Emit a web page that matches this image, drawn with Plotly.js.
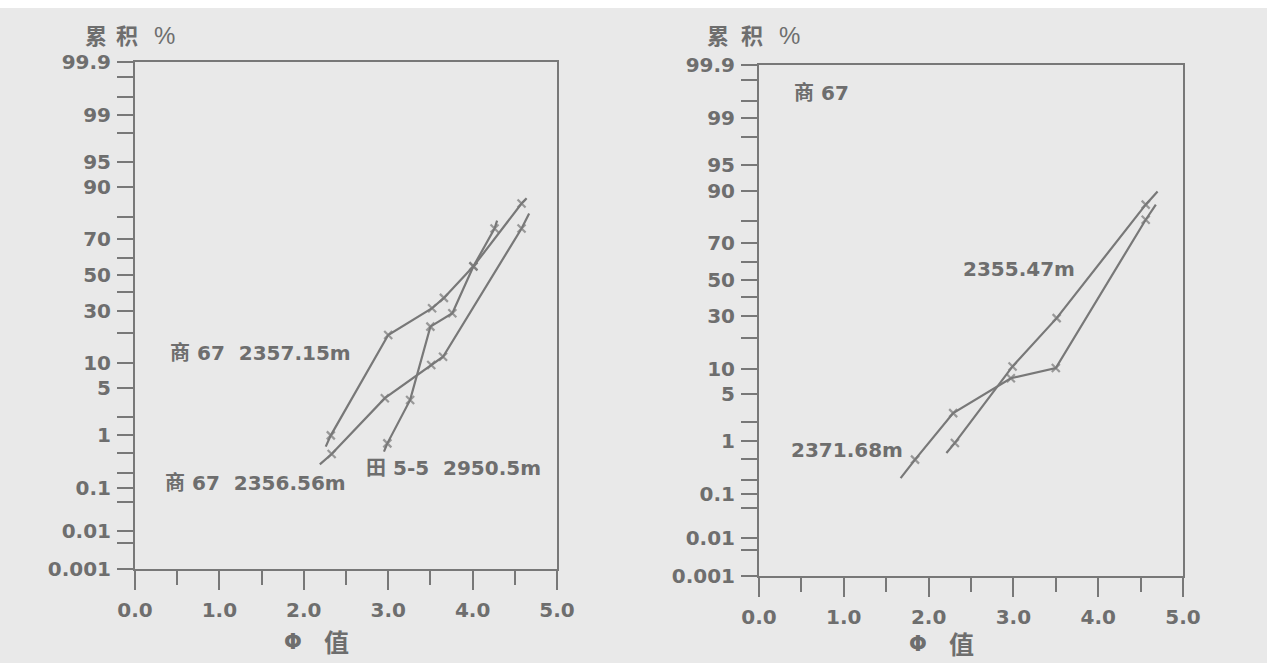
<!DOCTYPE html>
<html>
<head>
<meta charset="utf-8">
<script src="https://cdn.plot.ly/plotly-3.0.1.min.js"></script>
<style>html,body{margin:0;padding:0;background:#e9e9e9;}#chart{width:1267px;height:663px;}</style>
</head>
<body>
<div id="chart"></div>
<script>
// ---------- data (Φ value, cumulative %) ----------
// left panel
var s1Phi = [2.26, 2.32, 3.00, 3.52, 3.66, 4.01, 4.58, 4.64];      // 商67 2357.15m
var s1Pct = [0.64, 1.0, 19.2, 31.5, 37, 55, 85, 86.7];
var s2Phi = [2.19, 2.33, 2.96, 3.51, 3.65, 4.58, 4.67];            // 商67 2356.56m
var s2Pct = [0.30, 0.47, 3.7, 9.6, 11.8, 75, 81.4];
var s3Phi = [2.95, 2.99, 3.26, 3.50, 3.76, 4.01, 4.26, 4.29];      // 田5-5 2950.5m
var s3Pct = [0.52, 0.73, 3.5, 22.7, 29, 55, 75, 78.5];
// right panel
var pPhi = [1.67, 1.84, 2.29, 2.97, 3.50, 4.56, 4.68];             // 2371.68m
var pPct = [0.215, 0.48, 2.74, 7.8, 10.2, 80.6, 86];
var qPhi = [2.21, 2.31, 2.99, 3.51, 4.56, 4.70];                   // 2355.47m
var qPct = [0.63, 0.94, 10.6, 29, 86, 89.8];

var majorPct = [99.9, 99, 95, 90, 70, 50, 30, 10, 5, 1, 0.1, 0.01, 0.001];
var majorLbl = ['99.9', '99', '95', '90', '70', '50', '30', '10', '5', '1', '0.1', '0.01', '0.001'];
var minorPct = [99.8, 99.5, 98, 80, 60, 40, 20, 2, 0.5, 0.2, 0.05, 0.005];

// ---------- probability (probit) scale ----------
function probit(p) {
  var a = [-3.969683028665376e+01, 2.209460984245205e+02, -2.759285104469687e+02, 1.383577518672690e+02, -3.066479806614716e+01, 2.506628277459239e+00];
  var b = [-5.447609879822406e+01, 1.615858368580409e+02, -1.556989798598866e+02, 6.680131188771972e+01, -1.328068155288572e+01];
  var c = [-7.784894002430293e-03, -3.223964580411365e-01, -2.400758277161838e+00, -2.549732539343734e+00, 4.374664141464968e+00, 2.938163982698783e+00];
  var d = [7.784695709041462e-03, 3.224671290700398e-01, 2.445134137142996e+00, 3.754408661907416e+00];
  var pl = 0.02425, q, r;
  if (p < pl) { q = Math.sqrt(-2 * Math.log(p));
    return (((((c[0]*q+c[1])*q+c[2])*q+c[3])*q+c[4])*q+c[5]) / ((((d[0]*q+d[1])*q+d[2])*q+d[3])*q+1); }
  if (p <= 1 - pl) { q = p - 0.5; r = q*q;
    return (((((a[0]*r+a[1])*r+a[2])*r+a[3])*r+a[4])*r+a[5])*q / (((((b[0]*r+b[1])*r+b[2])*r+b[3])*r+b[4])*r+1); }
  q = Math.sqrt(-2 * Math.log(1 - p));
  return -(((((c[0]*q+c[1])*q+c[2])*q+c[3])*q+c[4])*q+c[5]) / ((((d[0]*q+d[1])*q+d[2])*q+d[3])*q+1);
}
function z(arr) { return arr.map(function (v) { return probit(v / 100); }); }

var W = 1267, H = 663;
function px(x) { return x / W; }
function py(y) { return 1 - y / H; }

var INK = '#6e6e6e', LINE = '#787878';
var numFont = {family: 'DejaVu Sans, sans-serif', size: 20, color: INK, weight: 'bold'};
var txtFont = {family: 'DejaVu Sans, Noto Sans CJK SC, sans-serif', size: 20, color: INK, weight: 'bold'};
var cjkFont = {family: 'Noto Sans CJK SC, sans-serif', size: 22, color: INK, weight: 'bold'};
var pctFont = {family: 'Liberation Sans, sans-serif', size: 24, color: INK};
var phiFont = {family: 'DejaVu Sans, sans-serif', size: 21, color: INK, weight: 'bold'};
var zhiFont = {family: 'Noto Sans CJK SC, sans-serif', size: 25, color: INK, weight: 'bold'};

function markerSizes(n) { var s = []; for (var i = 0; i < n; i++) s.push(i === 0 || i === n - 1 ? 0 : 8); return s; }
function trace(xs, ps, xa, ya) {
  return {x: xs, y: z(ps), xaxis: xa, yaxis: ya, type: 'scatter', mode: 'lines+markers',
    line: {color: LINE, width: 2.2},
    marker: {symbol: 'x-thin', size: markerSizes(xs.length), color: LINE, line: {color: LINE, width: 2.2}},
    hoverinfo: 'skip', showlegend: false};
}

var data = [
  trace(s1Phi, s1Pct, 'x', 'y'),
  trace(s2Phi, s2Pct, 'x', 'y'),
  trace(s3Phi, s3Pct, 'x', 'y'),
  trace(pPhi, pPct, 'x2', 'y2'),
  trace(qPhi, qPct, 'x2', 'y2')
];

function xAxis(d0, d1, anchor) {
  return {domain: [d0, d1], range: [0, 5], anchor: anchor, showline: true, mirror: true,
    linecolor: LINE, linewidth: 2, ticks: 'outside', ticklen: 19, tickwidth: 2, tickcolor: LINE,
    tickmode: 'linear', tick0: 0, dtick: 1, tickformat: '.1f', tickfont: numFont,
    minor: {dtick: 0.5, tick0: 0, ticklen: 14, tickwidth: 2, tickcolor: LINE, ticks: 'outside', showgrid: false},
    showgrid: false, zeroline: false, fixedrange: true, ticklabelstandoff: 3};
}
function yAxis(d0, d1, anchor) {
  return {domain: [d0, d1], range: [probit(0.00001), probit(0.999)], anchor: anchor, showline: true, mirror: true,
    linecolor: LINE, linewidth: 2, ticks: 'outside', ticklen: 16, tickwidth: 2, tickcolor: LINE,
    tickmode: 'array', tickvals: z(majorPct), ticktext: majorLbl, tickfont: numFont,
    minor: {tickmode: 'array', tickvals: z(minorPct), ticklen: 16, tickwidth: 2, tickcolor: LINE, ticks: 'outside', showgrid: false},
    showgrid: false, zeroline: false, fixedrange: true, ticklabelstandoff: 2};
}

function ann(text, xl, yc, font, anchor) {
  return {text: text, xref: 'paper', yref: 'paper', x: px(xl), y: py(yc), xanchor: anchor || 'left', yanchor: 'middle',
    showarrow: false, font: font};
}

var layout = {
  width: W, height: H, margin: {l: 0, r: 0, t: 0, b: 0},
  paper_bgcolor: '#e9e9e9', plot_bgcolor: 'rgba(0,0,0,0)',
  xaxis: xAxis(px(135), px(557), 'y'),
  yaxis: yAxis(py(569), py(62), 'x'),
  xaxis2: xAxis(px(759), px(1183), 'y2'),
  yaxis2: yAxis(py(576), py(65), 'x2'),
  shapes: [{type: 'rect', xref: 'paper', yref: 'paper', x0: 0, x1: 1, y0: py(8), y1: 1, fillcolor: '#ffffff', line: {width: 0}, layer: 'below'}],
  annotations: [
    ann('累', 96, 34, cjkFont, 'center'), ann('积', 127, 34, cjkFont, 'center'), ann('%', 165, 35, pctFont, 'center'),
    ann('商 67  2357.15m', 168, 353, txtFont),
    ann('商 67  2356.56m', 163, 483, txtFont),
    ann('田 5-5  2950.5m', 364, 468, txtFont),
    ann('Φ', 293, 642, phiFont, 'center'), ann('值', 336, 641, zhiFont, 'center'),
    ann('累', 718, 34, cjkFont, 'center'), ann('积', 752, 34, cjkFont, 'center'), ann('%', 789, 35, pctFont, 'center'),
    ann('商 67', 792, 93, txtFont),
    ann('2355.47m', 961, 269, txtFont),
    ann('2371.68m', 789, 450, txtFont),
    ann('Φ', 918, 644, phiFont, 'center'), ann('值', 961, 643, zhiFont, 'center')
  ]
};

Plotly.newPlot('chart', data, layout, {displayModeBar: false, staticPlot: true});
</script>
</body>
</html>
